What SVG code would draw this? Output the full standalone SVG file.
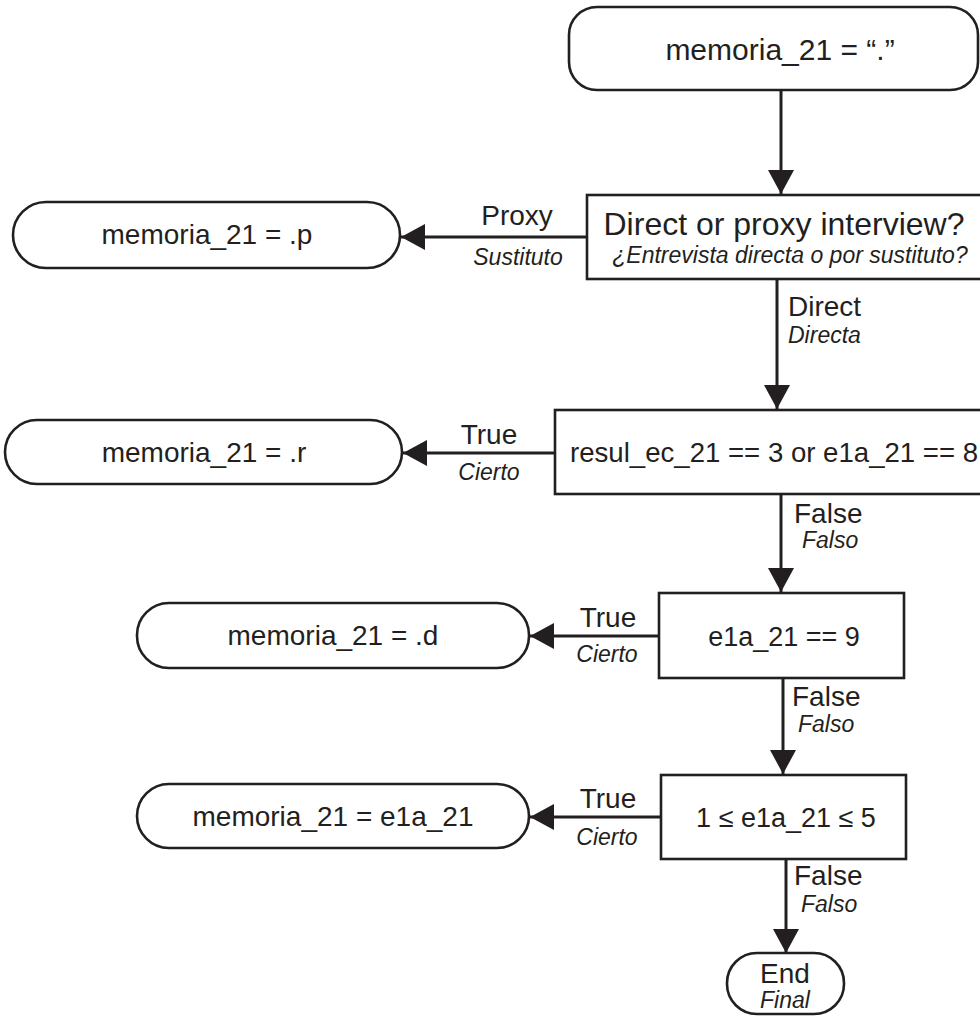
<svg xmlns="http://www.w3.org/2000/svg" width="980" height="1017" viewBox="0 0 980 1017">
<style>
.box{fill:#fff;stroke:#231f20;stroke-width:2.6}
.edge{fill:none;stroke:#231f20;stroke-width:3}
.t{font-family:"Liberation Sans",Arial,sans-serif;fill:#231f20}
.m{font-size:28px;text-anchor:middle}
.lb{font-size:28px}
.it{font-size:23px;font-style:italic}
.c{text-anchor:middle}
</style>
<defs>
<marker id="ah" markerUnits="userSpaceOnUse" markerWidth="25" markerHeight="26" refX="24" refY="13" orient="auto">
<path d="M0,0 L24,13 L0,26 z" fill="#231f20"/>
</marker>
</defs>
<rect width="980" height="1017" fill="#fff"/>
<g id="connectors">
<line class="edge" x1="781" y1="90" x2="781" y2="194" marker-end="url(#ah)"/>
<line class="edge" x1="587" y1="237" x2="401" y2="237" marker-end="url(#ah)"/>
<line class="edge" x1="777" y1="279" x2="777" y2="409" marker-end="url(#ah)"/>
<line class="edge" x1="555" y1="453" x2="403" y2="453" marker-end="url(#ah)"/>
<line class="edge" x1="781" y1="494" x2="781" y2="592" marker-end="url(#ah)"/>
<line class="edge" x1="659" y1="636" x2="530" y2="636" marker-end="url(#ah)"/>
<line class="edge" x1="783" y1="678" x2="783" y2="774" marker-end="url(#ah)"/>
<line class="edge" x1="661" y1="817" x2="530" y2="817" marker-end="url(#ah)"/>
<line class="edge" x1="786" y1="859" x2="786" y2="953" marker-end="url(#ah)"/>
<text class="t lb c" x="517" y="225">Proxy</text>
<text class="t it c" x="518" y="265">Sustituto</text>
<text class="t lb" x="788" y="316">Direct</text>
<text class="t it" x="788" y="343">Directa</text>
<text class="t lb c" x="489" y="444">True</text>
<text class="t it c" x="489" y="480">Cierto</text>
<text class="t lb" x="794" y="523">False</text>
<text class="t it" x="802" y="548">Falso</text>
<text class="t lb c" x="608" y="627">True</text>
<text class="t it c" x="607" y="662">Cierto</text>
<text class="t lb" x="792" y="706">False</text>
<text class="t it" x="798" y="732">Falso</text>
<text class="t lb c" x="608" y="808">True</text>
<text class="t it c" x="607" y="845">Cierto</text>
<text class="t lb" x="794" y="885">False</text>
<text class="t it" x="801" y="912">Falso</text>
</g>
<g id="start">
<rect class="box" x="569" y="7" width="409" height="83" rx="28"/>
<text class="t c" x="780" y="60" font-size="30">memoria_21 = “.”</text>
</g>
<g id="q_proxy">
<rect class="box" x="587" y="195" width="410" height="84"/>
<text class="t c" x="784" y="235" font-size="32">Direct or proxy interview?</text>
<text class="t it c" x="790" y="263" font-size="25">¿Entrevista directa o por sustituto?</text>
</g>
<g id="set_p">
<rect class="box" x="13" y="202" width="387" height="66" rx="33"/>
<text class="t m" x="207" y="244">memoria_21 = .p</text>
</g>
<g id="q_resul">
<rect class="box" x="555" y="410" width="440" height="84"/>
<text class="t" x="570" y="462" font-size="27.6">resul_ec_21 == 3 or e1a_21 == 8</text>
</g>
<g id="set_r">
<rect class="box" x="5" y="420" width="397" height="64" rx="32"/>
<text class="t m" x="204" y="462">memoria_21 = .r</text>
</g>
<g id="q_e1a9">
<rect class="box" x="659" y="593" width="245" height="85"/>
<text class="t c" x="784" y="646" font-size="27">e1a_21 == 9</text>
</g>
<g id="set_d">
<rect class="box" x="137" y="603" width="392" height="65" rx="32"/>
<text class="t m" x="333" y="645">memoria_21 = .d</text>
</g>
<g id="q_range">
<rect class="box" x="661" y="775" width="245" height="84"/>
<text class="t c" x="786" y="827" font-size="27">1 ≤ e1a_21 ≤ 5</text>
</g>
<g id="set_e1a">
<rect class="box" x="137" y="784" width="392" height="64" rx="32"/>
<text class="t m" x="333" y="826">memoria_21 = e1a_21</text>
</g>
<g id="end">
<rect class="box" x="727" y="953" width="117" height="61" rx="30"/>
<text class="t c" x="785" y="983" font-size="28">End</text>
<text class="t it c" x="785" y="1008">Final</text>
</g>
</svg>
